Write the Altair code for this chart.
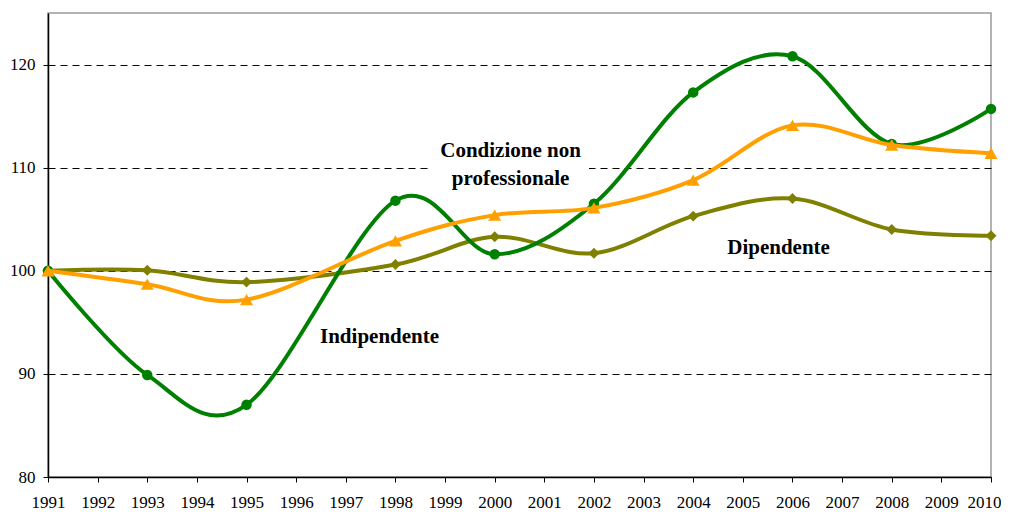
import altair as alt
import pandas as pd

years = [1991, 1993, 1995, 1998, 2000, 2002, 2004, 2006, 2008, 2010]
indipendente = [100.0, 89.9, 87.0, 106.8, 101.6, 106.5, 117.3, 120.8, 112.3, 115.7]
condizione = [100.0, 98.7, 97.2, 102.9, 105.4, 106.1, 108.8, 114.1, 112.2, 111.4]
dipendente = [100.0, 100.05, 98.9, 100.6, 103.3, 101.7, 105.3, 107.0, 104.0, 103.4]

series_names = ["Dipendente", "Indipendente", "Condizione non professionale"]
series_colors = ["#808000", "#008000", "#FFA000"]
series_shapes = ["diamond", "circle", "triangle-up"]
series_sizes = [120, 110, 170]
series_values = [dipendente, indipendente, condizione]

label_text = ["Indipendente", "Dipendente", "Condizione non", "professionale"]
label_x = [1997.68, 2005.72, 2000.32, 2000.32]
label_y = [93.6, 102.2, 111.6, 108.9]

box_x = [1998.7]
box_x2 = [2001.9]
box_y = [107.3]
box_y2 = [113.2]

FONT = "Liberation Serif"

xscale = alt.Scale(domain=[1991, 2010], nice=False, zero=False)
yscale = alt.Scale(domain=[80, 125], nice=False, zero=False)

x_axis = alt.Axis(values=list(range(1991, 2011)), format="d", title=None,
                  labelFont=FONT, labelFontSize=17, labelColor="black",
                  labelPadding=12, tickSize=5, tickColor="black",
                  domainColor="black", domainWidth=1.5, labelFlush=False,
                  labelOverlap=False, grid=False,
                  labelOffset={"expr": "datum.value == 2010 ? -7 : 0"})
y_axis = alt.Axis(values=[80, 90, 100, 110, 120], title=None,
                  labelFont=FONT, labelFontSize=17, labelColor="black",
                  labelPadding=8, tickSize=5, tickColor="black",
                  domainColor="black", domainWidth=1.5,
                  grid=True, gridColor="black", gridDash=[7, 5], gridWidth=1)

base_axes = alt.Chart(pd.DataFrame({"x": [1991], "y": [80]})).mark_point(opacity=0).encode(
    x=alt.X("x:Q", scale=xscale, axis=x_axis),
    y=alt.Y("y:Q", scale=yscale, axis=y_axis),
)

box = alt.Chart(pd.DataFrame({"x": box_x, "x2": box_x2, "y": box_y, "y2": box_y2})).mark_rect(
    color="white"
).encode(
    x=alt.X("x:Q", scale=xscale), x2="x2:Q",
    y=alt.Y("y:Q", scale=yscale), y2="y2:Q",
)

layers = [base_axes, box]
for name, color, shape, size, vals in zip(series_names, series_colors, series_shapes,
                                          series_sizes, series_values):
    df = pd.DataFrame({"year": years, "value": vals, "serie": name})
    line = alt.Chart(df).mark_line(color=color, strokeWidth=4,
                                   interpolate="cardinal", tension=0).encode(
        x=alt.X("year:Q", scale=xscale),
        y=alt.Y("value:Q", scale=yscale),
    )
    pts = alt.Chart(df).mark_point(shape=shape, size=size, filled=True,
                                   color=color, opacity=1).encode(
        x=alt.X("year:Q", scale=xscale),
        y=alt.Y("value:Q", scale=yscale),
    )
    layers += [line, pts]

labels = alt.Chart(pd.DataFrame({"t": label_text, "x": label_x, "y": label_y})).mark_text(
    font=FONT, fontSize=21, fontWeight="bold", color="black", align="center",
    baseline="middle"
).encode(
    x=alt.X("x:Q", scale=xscale),
    y=alt.Y("y:Q", scale=yscale),
    text="t:N",
)
layers.append(labels)

chart = alt.layer(*layers).properties(
    width=943, height=464,
    autosize=alt.AutoSizeParams(type="none"),
    padding={"left": 40, "top": 5, "right": 10, "bottom": 35},
    background="white",
).configure_view(
    stroke="#999999", strokeWidth=1.5
)

chart.save("out.html", embed_options={"renderer": "svg", "actions": False})
